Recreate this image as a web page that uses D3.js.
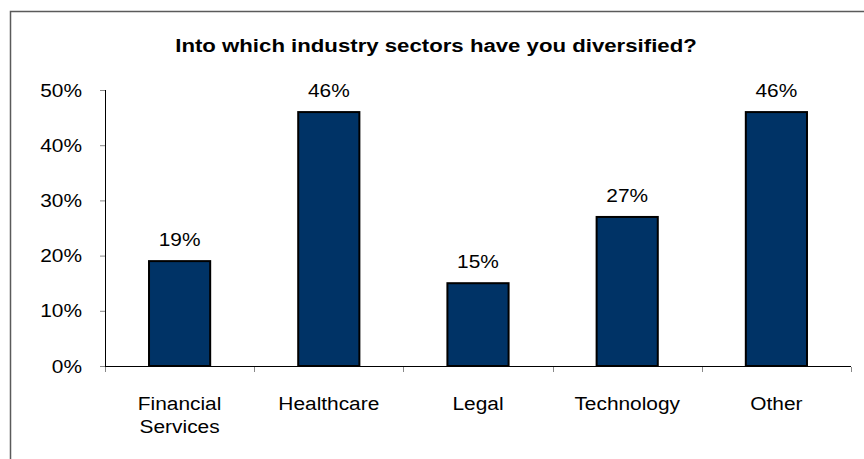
<!DOCTYPE html>
<html>
<head>
<meta charset="utf-8">
<script src="https://cdn.jsdelivr.net/npm/d3@7"></script>
<style>
  html, body { margin: 0; padding: 0; background: #fff; }
  svg { display: block; }
  text { font-family: "Liberation Sans", Arial, sans-serif; fill: #000; }
</style>
</head>
<body>
<svg id="chart" width="864" height="459"></svg>
<script>
const title = "Into which industry sectors have you diversified?";
const categories = [["Financial", "Services"], ["Healthcare"], ["Legal"], ["Technology"], ["Other"]];
const values = [19, 46, 15, 27, 46];
const yTicks = [0, 10, 20, 30, 40, 50];

const W = 864, H = 459;
const margin = { left: 105, right: 13, top: 90, bottom: 93 };
const stretch = 1.16; // labels are drawn slightly wide

const svg = d3.select("#chart");

// outer frame (left and top edges)
svg.append("path")
  .attr("d", `M10.5,${H} V11.5 H${W}`)
  .attr("fill", "none")
  .attr("stroke", "#5a5a5a")
  .attr("stroke-width", 1.5);

const x = d3.scaleBand()
  .domain(d3.range(categories.length))
  .range([margin.left, W - margin.right])
  .paddingInner(0.59)
  .paddingOuter(0.295);

const y = d3.scaleLinear()
  .domain([0, 50])
  .range([H - margin.bottom, margin.top]);

function wideText(sel, size, weight) {
  return sel.append("text")
    .attr("font-size", size)
    .attr("font-weight", weight || "normal");
}

// title
wideText(svg, 18.5, "bold")
  .attr("transform", `translate(436,52) scale(1.2,1)`)
  .attr("text-anchor", "middle")
  .text(title);

// y axis
const yAxis = svg.append("g")
  .attr("transform", `translate(${margin.left},0)`)
  .call(d3.axisLeft(y).tickValues(yTicks).tickSize(5).tickFormat(""));
yAxis.select(".domain").attr("stroke", "#000").attr("d", `M0.5,${y(50)}V${y(0)}`);
yAxis.selectAll(".tick line").attr("stroke", "#888");

yTicks.forEach(t => {
  wideText(svg, 18)
    .attr("transform", `translate(82,${y(t) + 6.5}) scale(${stretch},1)`)
    .attr("text-anchor", "end")
    .text(t + "%");
});

// x axis: ticks sit on category boundaries
const step = x.step();
const bounds = d3.range(categories.length + 1).map(i => margin.left + i * step);
const xAxis = svg.append("g");
xAxis.append("line")
  .attr("x1", margin.left).attr("x2", W - margin.right)
  .attr("y1", y(0) + 0.5).attr("y2", y(0) + 0.5)
  .attr("stroke", "#000");
xAxis.selectAll("line.tick")
  .data(bounds)
  .join("line")
  .attr("class", "tick")
  .attr("x1", d => Math.round(d) + 0.5).attr("x2", d => Math.round(d) + 0.5)
  .attr("y1", y(0) + 1).attr("y2", y(0) + 6)
  .attr("stroke", "#888");

// bars
svg.selectAll("rect.bar")
  .data(values)
  .join("rect")
  .attr("class", "bar")
  .attr("x", (d, i) => x(i))
  .attr("width", x.bandwidth())
  .attr("y", d => y(d))
  .attr("height", d => y(0) - y(d))
  .attr("fill", "#003366")
  .attr("stroke", "#000")
  .attr("stroke-width", 2);

// value labels
values.forEach((v, i) => {
  wideText(svg, 18)
    .attr("transform", `translate(${x(i) + x.bandwidth() / 2},${y(v) - 15}) scale(${stretch},1)`)
    .attr("text-anchor", "middle")
    .text(v + "%");
});

// category labels
categories.forEach((lines, i) => {
  lines.forEach((ln, j) => {
    wideText(svg, 18)
      .attr("transform", `translate(${x(i) + x.bandwidth() / 2},${410 + j * 23}) scale(${stretch},1)`)
      .attr("text-anchor", "middle")
      .text(ln);
  });
});
</script>
</body>
</html>
